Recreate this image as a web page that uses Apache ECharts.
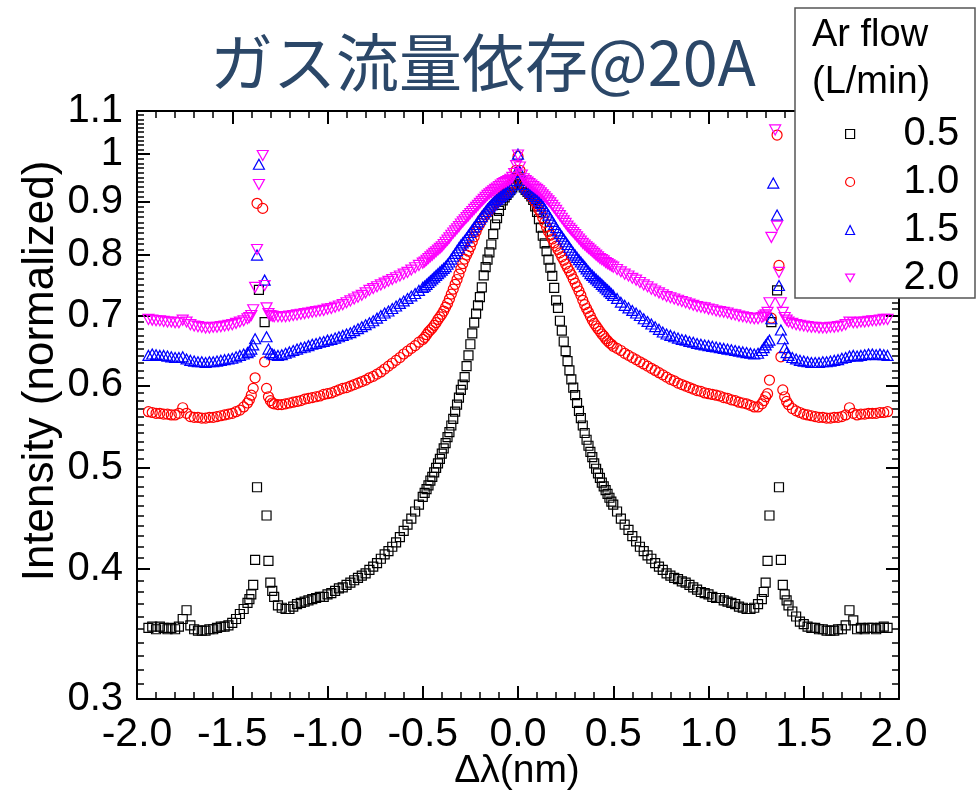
<!DOCTYPE html>
<html>
<head>
<meta charset="utf-8">
<title>ガス流量依存@20A</title>
<script src="https://cdn.jsdelivr.net/npm/echarts@6/dist/echarts.min.js"></script>
<style>
  html, body { margin: 0; padding: 0; background: #fff; }
  #chart { width: 977px; height: 795px; }
</style>
</head>
<body>
<div id="chart"></div>
<script>
// Wavelength offset Δλ (nm) of each sample; finer sampling near the line centre and the side lines.
const xs = [
  -1.94,-1.92,-1.90,-1.88,-1.86,-1.84,-1.82,-1.80,-1.78,-1.76,-1.74,-1.72,-1.70,-1.68,-1.66,-1.64,-1.62,-1.60,-1.58,-1.56,-1.54,-1.52,-1.50,-1.48,-1.46,-1.44,-1.42,
  -1.41,-1.40,-1.39,-1.38,-1.37,-1.36,-1.35,-1.34,-1.33,-1.32,-1.31,-1.30,-1.29,-1.28,
  -1.26,-1.24,-1.22,-1.20,-1.18,-1.16,-1.14,-1.12,-1.10,-1.08,-1.06,-1.04,-1.02,-1.00,-0.98,-0.96,-0.94,-0.92,-0.90,-0.88,-0.86,-0.84,-0.82,-0.80,-0.78,-0.76,-0.74,-0.72,-0.70,-0.68,-0.66,-0.64,-0.62,-0.60,-0.58,-0.56,-0.54,-0.52,
  -0.50,-0.49,-0.48,-0.47,-0.46,-0.45,-0.44,-0.43,-0.42,-0.41,
  -0.40,-0.39,-0.38,-0.37,-0.36,-0.35,-0.34,-0.33,-0.32,-0.31,
  -0.30,-0.29,-0.28,-0.27,-0.26,-0.25,-0.24,-0.23,-0.22,-0.21,
  -0.20,-0.19,-0.18,-0.17,-0.16,-0.15,-0.14,-0.13,-0.12,-0.11,
  -0.10,-0.09,-0.08,-0.07,-0.06,-0.05,-0.04,-0.03,-0.02,-0.01,
  0.00,
  0.01,0.02,0.03,0.04,0.05,0.06,0.07,0.08,0.09,0.10,
  0.11,0.12,0.13,0.14,0.15,0.16,0.17,0.18,0.19,0.20,
  0.21,0.22,0.23,0.24,0.25,0.26,0.27,0.28,0.29,0.30,
  0.31,0.32,0.33,0.34,0.35,0.36,0.37,0.38,0.39,0.40,
  0.41,0.42,0.43,0.44,0.45,0.46,0.47,0.48,0.49,0.50,
  0.52,0.54,0.56,0.58,0.60,0.62,0.64,0.66,0.68,0.70,0.72,0.74,0.76,0.78,0.80,0.82,0.84,0.86,0.88,0.90,0.92,0.94,0.96,0.98,1.00,1.02,1.04,1.06,1.08,1.10,1.12,1.14,1.16,1.18,1.20,1.22,1.24,1.26,
  1.28,1.29,1.30,1.31,1.32,1.33,1.34,1.35,1.36,1.37,1.38,1.39,1.40,1.41,
  1.42,1.44,1.46,1.48,1.50,1.52,1.54,1.56,1.58,1.60,1.62,1.64,1.66,1.68,1.70,1.72,1.74,1.76,1.78,1.80,1.82,1.84,1.86,1.88,1.90,1.92,1.94
];

// Normalized intensity for each Ar flow rate (null = point above the plotted range).
const flow05 = [
  0.351,0.352,0.350,0.352,0.351,0.350,0.351,0.350,0.352,0.358,0.365,0.353,0.350,0.349,0.349,0.349,0.350,0.350,0.351,0.352,0.352,0.353,0.355,0.358,0.362,0.366,0.371,
  0.374,0.378,0.386,0.408,0.479,0.741,null,null,0.690,0.450,0.407,0.388,0.381,0.376,
  0.369,0.367,0.366,0.366,0.368,0.370,0.371,0.372,0.373,0.374,0.375,0.376,0.376,0.378,0.379,0.381,0.383,0.384,0.386,0.388,0.390,0.392,0.394,0.396,0.399,0.402,0.405,0.409,0.413,0.416,0.420,0.424,0.429,0.435,0.441,0.447,0.454,0.461,
  0.469,0.473,0.477,0.481,0.486,0.490,0.495,0.500,0.505,0.510,
  0.516,0.522,0.528,0.535,0.541,0.549,0.557,0.566,0.575,0.584,
  0.594,0.601,0.611,0.626,0.641,0.657,0.673,0.689,0.703,0.716,
  0.729,0.745,0.765,0.779,0.792,0.805,0.819,0.838,0.856,0.868,
  0.882,0.894,0.903,0.909,0.914,0.919,0.924,0.929,0.935,0.942,
  0.950,
  0.944,0.936,0.929,0.924,0.920,0.916,0.911,0.904,0.891,0.880,
  0.866,0.850,0.835,0.821,0.807,0.792,0.778,0.764,0.744,0.724,
  0.712,0.692,0.677,0.661,0.647,0.633,0.620,0.608,0.597,0.587,
  0.577,0.567,0.558,0.549,0.540,0.532,0.525,0.518,0.512,0.505,
  0.499,0.494,0.489,0.484,0.480,0.476,0.472,0.468,0.464,0.461,
  0.454,0.447,0.441,0.436,0.430,0.425,0.420,0.416,0.412,0.409,0.405,0.402,0.399,0.396,0.394,0.392,0.391,0.389,0.388,0.386,0.384,0.382,0.380,0.379,0.378,0.376,0.375,0.375,0.373,0.372,0.371,0.370,0.368,0.367,0.366,0.366,0.367,0.370,
  0.374,0.380,0.388,0.407,0.450,0.690,null,null,0.740,0.479,0.408,0.386,0.378,0.373,
  0.369,0.364,0.360,0.356,0.354,0.352,0.351,0.351,0.350,0.350,0.349,0.349,0.349,0.350,0.350,0.353,0.365,0.357,0.350,0.351,0.350,0.351,0.351,0.350,0.351,0.352,0.351
];
const flow10 = [
  0.566,0.565,0.564,0.564,0.563,0.563,0.562,0.562,0.564,0.571,0.564,0.560,0.559,0.559,0.558,0.558,0.559,0.559,0.560,0.561,0.562,0.563,0.564,0.566,0.568,0.572,0.577,
  0.581,0.587,0.596,0.610,0.897,null,null,0.887,0.632,0.596,0.585,0.580,0.577,0.576,
  0.575,0.575,0.576,0.577,0.578,0.579,0.580,0.582,0.583,0.584,0.585,0.586,0.588,0.589,0.590,0.592,0.594,0.596,0.597,0.599,0.601,0.603,0.605,0.607,0.610,0.612,0.615,0.618,0.622,0.626,0.630,0.634,0.638,0.643,0.647,0.651,0.655,0.660,
  0.664,0.667,0.671,0.675,0.678,0.681,0.685,0.689,0.694,0.698,
  0.702,0.707,0.713,0.719,0.726,0.734,0.742,0.750,0.758,0.767,
  0.776,0.785,0.793,0.800,0.807,0.815,0.824,0.833,0.843,0.851,
  0.858,0.865,0.870,0.875,0.879,0.884,0.889,0.893,0.897,0.901,
  0.905,0.909,0.913,0.917,0.921,0.926,0.931,0.938,0.948,0.965,
  0.995,
  0.965,0.945,0.933,0.926,0.920,0.915,0.911,0.906,0.900,0.893,
  0.885,0.878,0.869,0.860,0.851,0.843,0.836,0.829,0.822,0.816,
  0.810,0.804,0.797,0.791,0.784,0.778,0.772,0.766,0.759,0.752,
  0.746,0.739,0.732,0.724,0.717,0.711,0.705,0.699,0.693,0.688,
  0.684,0.680,0.676,0.672,0.669,0.665,0.662,0.659,0.657,0.654,
  0.651,0.648,0.644,0.641,0.638,0.635,0.632,0.629,0.626,0.623,0.620,0.617,0.614,0.611,0.608,0.606,0.603,0.601,0.599,0.597,0.595,0.593,0.592,0.590,0.589,0.588,0.587,0.586,0.584,0.583,0.581,0.580,0.578,0.577,0.576,0.574,0.572,0.572,
  0.576,0.580,0.585,0.589,0.607,0.696,null,null,1.043,0.782,0.639,0.594,0.585,0.579,
  0.575,0.570,0.567,0.565,0.563,0.562,0.561,0.560,0.559,0.559,0.558,0.558,0.559,0.559,0.560,0.562,0.571,0.564,0.562,0.563,0.563,0.564,0.564,0.564,0.565,0.565,0.566
];
const flow15 = [
  0.641,0.643,0.642,0.641,0.641,0.640,0.639,0.638,0.638,0.639,0.636,0.634,0.633,0.632,0.632,0.631,0.632,0.632,0.633,0.634,0.635,0.636,0.637,0.639,0.641,0.643,0.645,
  0.647,0.650,0.656,0.665,0.800,0.978,null,null,0.757,0.668,0.650,0.645,0.643,0.642,
  0.641,0.642,0.644,0.646,0.648,0.650,0.652,0.653,0.655,0.657,0.658,0.660,0.661,0.663,0.664,0.666,0.668,0.670,0.672,0.674,0.677,0.680,0.683,0.686,0.689,0.692,0.696,0.700,0.704,0.707,0.711,0.715,0.719,0.723,0.727,0.731,0.735,0.740,
  0.745,0.747,0.750,0.753,0.756,0.759,0.762,0.765,0.768,0.771,
  0.774,0.777,0.780,0.784,0.788,0.793,0.798,0.803,0.808,0.813,
  0.818,0.822,0.826,0.831,0.836,0.841,0.846,0.851,0.856,0.861,
  0.866,0.871,0.876,0.881,0.886,0.890,0.894,0.898,0.902,0.905,
  0.908,0.911,0.914,0.917,0.920,0.924,0.928,0.934,0.943,0.960,
  1.000,
  0.962,0.944,0.935,0.930,0.926,0.922,0.919,0.915,0.911,0.907,
  0.902,0.897,0.892,0.886,0.880,0.874,0.868,0.862,0.856,0.850,
  0.844,0.839,0.834,0.829,0.824,0.819,0.814,0.809,0.804,0.800,
  0.796,0.792,0.788,0.784,0.780,0.776,0.772,0.768,0.765,0.762,
  0.759,0.756,0.753,0.750,0.747,0.744,0.741,0.738,0.735,0.732,
  0.727,0.721,0.716,0.712,0.708,0.704,0.700,0.695,0.691,0.687,0.683,0.679,0.675,0.672,0.670,0.668,0.666,0.664,0.663,0.661,0.660,0.658,0.657,0.656,0.655,0.654,0.653,0.652,0.651,0.650,0.649,0.648,0.647,0.646,0.645,0.644,0.643,0.644,
  0.648,0.652,0.656,0.660,0.663,0.695,0.938,null,0.874,0.748,0.678,0.665,0.652,0.645,
  0.641,0.638,0.636,0.634,0.633,0.632,0.631,0.631,0.631,0.632,0.632,0.633,0.634,0.635,0.637,0.638,0.640,0.641,0.640,0.641,0.642,0.643,0.643,0.642,0.643,0.642,0.641
];
const flow20 = [
  0.694,0.693,0.692,0.692,0.691,0.690,0.690,0.689,0.689,0.693,0.690,0.686,0.684,0.683,0.682,0.681,0.681,0.682,0.682,0.683,0.684,0.685,0.686,0.688,0.690,0.692,0.695,
  0.697,0.700,0.709,0.745,0.810,0.935,null,0.997,0.748,0.712,0.703,0.700,0.699,0.698,
  0.698,0.698,0.698,0.699,0.700,0.701,0.702,0.703,0.704,0.705,0.706,0.707,0.708,0.710,0.711,0.713,0.715,0.717,0.720,0.723,0.726,0.729,0.732,0.736,0.740,0.743,0.746,0.749,0.752,0.755,0.758,0.761,0.764,0.767,0.770,0.774,0.778,0.782,
  0.786,0.788,0.791,0.794,0.797,0.800,0.803,0.806,0.809,0.812,
  0.815,0.819,0.823,0.827,0.831,0.836,0.840,0.844,0.848,0.852,
  0.857,0.861,0.865,0.869,0.873,0.877,0.881,0.885,0.889,0.893,
  0.897,0.901,0.905,0.909,0.913,0.916,0.919,0.922,0.925,0.928,
  0.931,0.934,0.937,0.939,0.941,0.943,0.946,0.950,0.958,0.975,
  0.998,
  0.972,0.955,0.947,0.943,0.940,0.937,0.934,0.931,0.928,0.925,
  0.922,0.918,0.914,0.910,0.906,0.902,0.898,0.893,0.888,0.883,
  0.878,0.873,0.868,0.863,0.858,0.853,0.849,0.845,0.841,0.837,
  0.833,0.829,0.825,0.821,0.818,0.815,0.812,0.809,0.806,0.803,
  0.800,0.797,0.794,0.792,0.790,0.787,0.785,0.783,0.781,0.779,
  0.775,0.771,0.767,0.764,0.760,0.757,0.753,0.749,0.746,0.742,0.739,0.736,0.733,0.730,0.728,0.726,0.724,0.722,0.720,0.718,0.716,0.714,0.713,0.712,0.710,0.709,0.707,0.706,0.705,0.704,0.702,0.701,0.699,0.698,0.697,0.696,0.695,0.695,
  0.697,0.699,0.701,0.705,0.720,0.832,null,1.055,0.853,0.770,0.720,0.705,0.697,0.693,
  0.690,0.688,0.686,0.685,0.684,0.683,0.682,0.682,0.681,0.681,0.681,0.682,0.682,0.683,0.684,0.686,0.690,0.689,0.689,0.690,0.690,0.691,0.692,0.692,0.693,0.694,0.694
];

const flowNames = ['0.5', '1.0', '1.5', '2.0'];
const yTickValues = [0.3, 0.4, 0.5, 0.6, 0.7, 0.8, 0.9, 1.0, 1.1];
const yTickLabels = ['0.3', '0.4', '0.5', '0.6', '0.7', '0.8', '0.9', '1', '1.1'];
const titleText = 'ガス流量依存@20A';
const legendTitle = ['Ar flow', '(L/min)'];
const xName = 'Δλ(nm)';
const yName = 'Intensity (normalized)';

[flow05, flow10, flow15, flow20].forEach(function (s, i) {
  if (s.length !== xs.length) throw new Error('series ' + i + ' has ' + s.length + ' values, expected ' + xs.length);
});

// minor ticks every 0.01 on the log intensity axis
const yMinorValues = [];
for (let k = 31; k <= 109; k++) { if (k % 10 !== 0) yMinorValues.push(k / 100); }

function toPairs(ys) {
  const out = [];
  ys.forEach(function (y, i) { if (y !== null) out.push([xs[i], y]); });
  return out;
}

const FONT = '"Liberation Sans", Arial, sans-serif';
const downTriangle = 'path://M0,0L10,0L5,8.66Z';
const styles = [
  { symbol: 'rect', size: 9, color: '#000000' },
  { symbol: 'circle', size: 10, color: '#ff0000' },
  { symbol: 'triangle', size: [11, 10], color: '#0000ff' },
  { symbol: downTriangle, size: [11, 10], color: '#ff00ff' }
];
const allSeries = [flow05, flow10, flow15, flow20];

const axisLineStyle = { show: true, onZero: false, lineStyle: { color: '#000', width: 2 } };

function yAxisDef(position, major, withLabels) {
  return {
    type: 'log', logBase: 10, min: 0.3, max: 1.1, position: position,
    splitLine: { show: false },
    axisLine: major ? axisLineStyle : { show: false, onZero: false },
    axisTick: {
      show: true, inside: true, length: major ? 13 : 7,
      customValues: major ? yTickValues : yMinorValues,
      lineStyle: { color: '#000', width: major ? 2 : 1.5 }
    },
    axisLabel: withLabels ? {
      show: true, customValues: yTickValues, margin: 14,
      fontFamily: FONT, fontSize: 40, color: '#000',
      formatter: function (v) {
        const i = yTickValues.findIndex(function (t) { return Math.abs(t - v) < 1e-6; });
        return i >= 0 ? yTickLabels[i] : '';
      }
    } : { show: false }
  };
}

function xAxisDef(position, withLabels) {
  return {
    type: 'value', min: -2, max: 2, interval: 0.5, position: position,
    splitLine: { show: false },
    axisLine: axisLineStyle,
    axisTick: { show: true, inside: true, length: 13, lineStyle: { color: '#000', width: 2 } },
    minorTick: { show: true, splitNumber: 5, length: 7, lineStyle: { color: '#000', width: 1.5 } },
    minorSplitLine: { show: false },
    axisLabel: withLabels ? {
      show: true, margin: 15, fontFamily: FONT, fontSize: 41, color: '#000',
      formatter: function (v) { return (Math.abs(v) < 1e-9 ? 0 : v).toFixed(1); }
    } : { show: false }
  };
}

const chart = echarts.init(document.getElementById('chart'), null, { renderer: 'canvas' });
chart.setOption({
  animation: false,
  backgroundColor: '#ffffff',
  grid: { left: 137, right: 78, top: 111, bottom: 96, containLabel: false, outerBoundsMode: 'none' },
  xAxis: [xAxisDef('bottom', true), xAxisDef('top', false)],
  yAxis: [
    yAxisDef('left', true, true),
    yAxisDef('left', false, false),
    yAxisDef('right', true, false),
    yAxisDef('right', false, false)
  ],
  legend: {
    orient: 'vertical', left: 840, top: 108, z: 60,
    itemWidth: 9, itemHeight: 9, itemGap: 6, selectedMode: false,
    textStyle: { fontFamily: FONT, fontSize: 40, color: '#000', padding: [0, 0, 0, 44], lineHeight: 42 },
    data: flowNames.map(function (n, i) {
      return {
        name: n,
        icon: styles[i].symbol,
        itemStyle: { color: 'rgba(0,0,0,0)', borderColor: styles[i].color, borderWidth: 1.2 }
      };
    })
  },
  graphic: [
    { type: 'text', z: 50, x: 483, y: 62,
      style: { text: titleText, font: '63px "Noto Sans CJK JP"', fill: '#2b4768', align: 'center', verticalAlign: 'middle' } },
    { type: 'text', z: 50, x: 41, y: 371, rotation: Math.PI / 2,
      style: { text: yName, font: '44px "Liberation Sans", Arial, sans-serif', fill: '#000', align: 'center', verticalAlign: 'middle' } },
    { type: 'text', z: 50, x: 517, y: 771,
      style: { text: xName, font: '39px "Liberation Sans", Arial, sans-serif', fill: '#000', align: 'center', verticalAlign: 'middle' } },
    { type: 'rect', z: 50, shape: { x: 795, y: 8, width: 180, height: 290 },
      style: { fill: '#ffffff', stroke: '#555555', lineWidth: 1.5 } },
    { type: 'text', z: 51, x: 812, y: 36,
      style: { text: legendTitle[0], font: '38px "Liberation Sans", Arial, sans-serif', fill: '#000', verticalAlign: 'middle' } },
    { type: 'text', z: 51, x: 812, y: 83,
      style: { text: legendTitle[1], font: '38px "Liberation Sans", Arial, sans-serif', fill: '#000', verticalAlign: 'middle' } }
  ],
  series: allSeries.map(function (ys, i) {
    return {
      type: 'scatter', name: flowNames[i], xAxisIndex: 0, yAxisIndex: 0,
      data: toPairs(ys),
      symbol: styles[i].symbol, symbolSize: styles[i].size,
      itemStyle: { color: 'rgba(0,0,0,0)', borderColor: styles[i].color, borderWidth: 1.2, opacity: 1 },
      emphasis: { disabled: true }, silent: true, clip: true
    };
  })
});
</script>
</body>
</html>
